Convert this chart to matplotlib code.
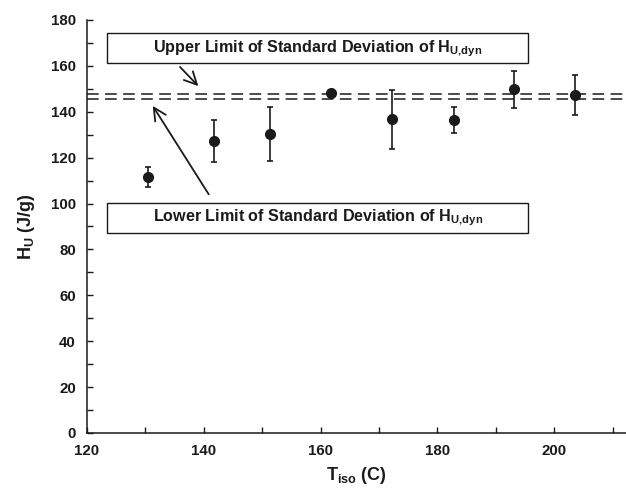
import matplotlib
matplotlib.use("Agg")
import matplotlib.pyplot as plt
from matplotlib.ticker import MultipleLocator
from matplotlib.patches import Rectangle

plt.rcParams['font.family'] = ['Liberation Sans', 'DejaVu Sans']
plt.rcParams['font.weight'] = 'bold'
plt.rcParams['mathtext.fontset'] = 'custom'
plt.rcParams['mathtext.rm'] = 'Liberation Sans:bold'
plt.rcParams['mathtext.bf'] = 'Liberation Sans:bold'
plt.rcParams['mathtext.it'] = 'Liberation Sans:bold'

# Data
t_iso = [130.5, 141.8, 151.4, 161.8, 172.3, 182.8, 193.2, 203.6]
h_u = [111.6, 127.2, 130.3, 148.1, 136.8, 136.4, 149.8, 147.4]
h_err = [4.5, 9.1, 11.7, 1.5, 12.9, 5.7, 8.0, 8.7]
upper_limit = 147.6
lower_limit = 145.5
upper_text = r"Upper Limit of Standard Deviation of H$_{\mathbf{U{,}dyn}}$"
lower_text = r"Lower Limit of Standard Deviation of H$_{\mathbf{U{,}dyn}}$"

ink = '#1a1a1a'

fig = plt.figure(figsize=(6.26, 5.0), dpi=100)
ax = fig.add_axes([0.139, 0.134, 0.861, 0.826])

lw = 1.1
dash = (0, (8.4 / lw, 4.6 / lw))
ax.axhline(upper_limit, color=ink, lw=lw, linestyle=dash)
ax.axhline(lower_limit, color=ink, lw=lw, linestyle=dash)

ax.errorbar(t_iso, h_u, yerr=h_err, fmt='o', color=ink, ms=7,
            elinewidth=1.2, capsize=2.5, capthick=1.2, zorder=5)

ax.set_xlim(120, 212.3)
ax.set_ylim(0, 180)
ax.xaxis.set_major_locator(MultipleLocator(20))
ax.xaxis.set_minor_locator(MultipleLocator(10))
ax.yaxis.set_major_locator(MultipleLocator(20))
ax.yaxis.set_minor_locator(MultipleLocator(10))
ax.tick_params(which='both', direction='in', color=ink, width=1.0, length=4)
ax.tick_params(axis='both', labelsize=10.8, labelcolor=ink, pad=8)

for s in ['top', 'right']:
    ax.spines[s].set_visible(False)
for s in ['left', 'bottom']:
    ax.spines[s].set_linewidth(1.1)
    ax.spines[s].set_color(ink)

ax.set_xlabel(r"T$_{\mathbf{iso}}$ (C)", fontsize=13, fontweight='bold', color=ink, labelpad=5)
ax.set_ylabel(r"H$_{\mathbf{U}}$ (J/g)", fontsize=13, fontweight='bold', color=ink, labelpad=10)

# text boxes
ax.add_patch(Rectangle((123.5, 161.2), 72.1, 13.0, fc='white', ec=ink, lw=1.0, zorder=6))
ax.add_patch(Rectangle((123.5, 87.3), 72.1, 12.8, fc='white', ec=ink, lw=1.0, zorder=6))
ax.text(159.5, 167.7, upper_text, ha='center', va='center', fontsize=11.6,
        fontweight='bold', color=ink, zorder=7)
ax.text(159.5, 93.7, lower_text, ha='center', va='center', fontsize=11.6,
        fontweight='bold', color=ink, zorder=7)

ax.annotate('', xy=(139.4, 150.3), xytext=(135.6, 160.4),
            arrowprops=dict(arrowstyle='->,head_length=0.9,head_width=0.45', color=ink, lw=1.3))
ax.annotate('', xy=(131.0, 143.6), xytext=(141.1, 103.0),
            arrowprops=dict(arrowstyle='->,head_length=0.9,head_width=0.45', color=ink, lw=1.3))

fig.savefig('out.png', dpi=100)
